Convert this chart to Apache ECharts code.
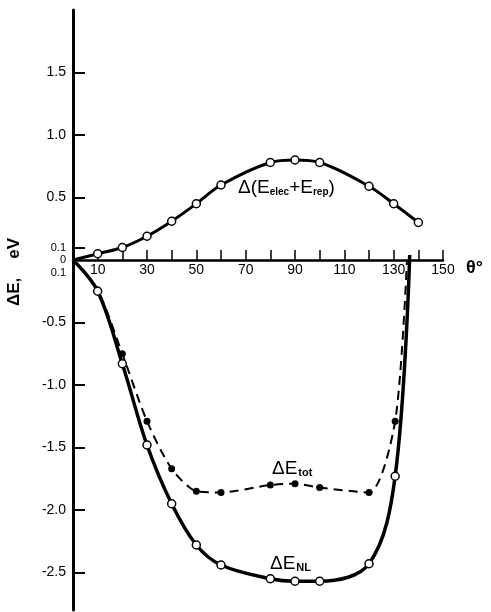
<!DOCTYPE html>
<html>
<head>
<meta charset="utf-8">
<script src="https://cdn.jsdelivr.net/npm/echarts@6/dist/echarts.min.js"></script>
<style>
  html, body {margin: 0; padding: 0; background: #fff;}
  #chart {width: 491px; height: 612px;}
</style>
</head>
<body>
<div id="chart"></div>
<script>
// angle theta (deg) and energy values (eV)
const thetaUpper = [0, 10, 20, 30, 40, 50, 60, 80, 90, 100, 120, 130, 140];
const elecRep = [0, 0.05, 0.10, 0.19, 0.31, 0.45, 0.60, 0.78, 0.80, 0.78, 0.59, 0.45, 0.30];

const thetaTot = [0, 10, 20, 30, 40, 50, 60, 80, 90, 100, 120, 130.6, 135.4];
const eTot = [0, -0.24, -0.75, -1.29, -1.67, -1.85, -1.86, -1.80, -1.79, -1.82, -1.86, -1.29, 0];

const thetaNL = [0, 10, 20, 30, 40, 50, 60, 80, 90, 100, 120, 130.6, 136.5];
const eNL = [0, -0.25, -0.83, -1.48, -1.95, -2.28, -2.44, -2.55, -2.57, -2.57, -2.43, -1.73, 0.04];

const xLabelValues = [10, 30, 50, 70, 90, 110, 130, 150];
const yTickValues = [1.5, 1.0, 0.5, 0.1, -0.5, -1.0, -1.5, -2.0, -2.5];
const yLabelValues = [1.5, 1.0, 0.5, 0.1, 0, -0.1, -0.5, -1.0, -1.5, -2.0, -2.5];

const Y_MIN = -2.8;
const Y_MAX = 2.0;
const GRID_TOP = 10;
const GRID_BOTTOM = 2;
const PLOT_H = 612 - GRID_TOP - GRID_BOTTOM;

const FONT = '"Liberation Sans", Arial, sans-serif';

// points listed in noMarker are curve ends only, drawn without a marker
function pairs(xs, ys, noMarker) {
  return xs.map((x, i) => {
    let item = {value: [x, ys[i]]};
    if (noMarker.indexOf(i) >= 0) {
      item.symbol = 'none';
    }
    return item;
  });
}

let chart = echarts.init(document.getElementById('chart'));

let option = {
  backgroundColor: '#fff',
  animation: false,
  grid: {left: 73, right: 48, top: GRID_TOP, bottom: GRID_BOTTOM, outerBoundsMode: 'none'},
  xAxis: {
    type: 'value',
    position: 'bottom',
    // lift the theta axis up to the y = 0 line
    offset: -PLOT_H * (0 - Y_MIN) / (Y_MAX - Y_MIN),
    min: 0,
    max: 150,
    interval: 10,
    splitLine: {show: false},
    axisLine: {onZero: false, lineStyle: {color: '#000', width: 2.5}},
    axisTick: {inside: true, length: 10, lineStyle: {color: '#000', width: 1.5}},
    axisLabel: {
      showMinLabel: false,
      margin: 3,
      color: '#000',
      fontSize: 14,
      fontFamily: FONT,
      formatter: function (v) {
        return xLabelValues.indexOf(v) >= 0 ? String(v) : '';
      }
    }
  },
  yAxis: {
    type: 'value',
    min: Y_MIN,
    max: Y_MAX,
    splitLine: {show: false},
    axisLine: {onZero: false, lineStyle: {color: '#000', width: 3}},
    axisTick: {customValues: yTickValues, inside: true, length: 12, lineStyle: {color: '#000', width: 2}},
    axisLabel: {
      customValues: yLabelValues,
      margin: 7,
      color: '#000',
      fontSize: 14,
      fontFamily: FONT,
      formatter: function (v) {
        if (Math.abs(v) < 1e-9) return '{s|0}';
        if (Math.abs(Math.abs(v) - 0.1) < 1e-9) return '{s|0.1}';
        return v.toFixed(1);
      },
      rich: {
        s: {fontSize: 11, fontFamily: FONT, color: '#000'}
      }
    }
  },
  series: [
    {
      name: 'dE_tot',
      type: 'line',
      data: pairs(thetaTot, eTot, [0, 12]),
      smooth: 0.25,
      symbol: 'circle',
      symbolSize: 7,
      lineStyle: {color: '#000', width: 2, type: [9, 6]},
      itemStyle: {color: '#000'},
      z: 2
    },
    {
      name: 'dE_NL',
      type: 'line',
      data: pairs(thetaNL, eNL, [0, 12]),
      smooth: 0.35,
      symbol: 'circle',
      symbolSize: 8,
      lineStyle: {color: '#000', width: 3.5},
      itemStyle: {color: '#fff', borderColor: '#000', borderWidth: 1.5},
      z: 3
    },
    {
      name: 'elec+rep',
      type: 'line',
      data: pairs(thetaUpper, elecRep, [0]),
      smooth: 0.35,
      symbol: 'circle',
      symbolSize: 8,
      lineStyle: {color: '#000', width: 3},
      itemStyle: {color: '#fff', borderColor: '#000', borderWidth: 1.5},
      z: 3
    }
  ],
  graphic: [
    {
      type: 'text',
      left: 6,
      top: 238,
      rotation: Math.PI / 2,
      style: {
        text: 'ΔE,    eV',
        fontSize: 17,
        fontWeight: 'bold',
        fontFamily: FONT,
        fill: '#000'
      }
    },
    {
      type: 'text',
      x: 466,
      y: 268,
      style: {
        text: 'θ°',
        fontSize: 18,
        fontWeight: 'bold',
        fontFamily: FONT,
        fill: '#000',
        verticalAlign: 'middle'
      }
    },
    {
      type: 'text',
      x: 238,
      y: 178,
      style: {
        text: 'Δ(E{s|elec}+E{s|rep})',
        fontSize: 19,
        fontFamily: FONT,
        fill: '#000',
        rich: {
          s: {fontSize: 10, fontWeight: 'bold', verticalAlign: 'bottom', padding: [8, 0, 0, 0]}
        }
      }
    },
    {
      type: 'text',
      x: 272,
      y: 459,
      style: {
        text: 'ΔE{s|tot}',
        fontSize: 19,
        fontFamily: FONT,
        fill: '#000',
        rich: {
          s: {fontSize: 11, fontWeight: 'bold', verticalAlign: 'bottom', padding: [8, 0, 0, 1]}
        }
      }
    },
    {
      type: 'text',
      x: 270,
      y: 554,
      style: {
        text: 'ΔE{s|NL}',
        fontSize: 19,
        fontFamily: FONT,
        fill: '#000',
        rich: {
          s: {fontSize: 11, fontWeight: 'bold', verticalAlign: 'bottom', padding: [8, 0, 0, 1]}
        }
      }
    }
  ]
};

chart.setOption(option);
</script>
</body>
</html>
